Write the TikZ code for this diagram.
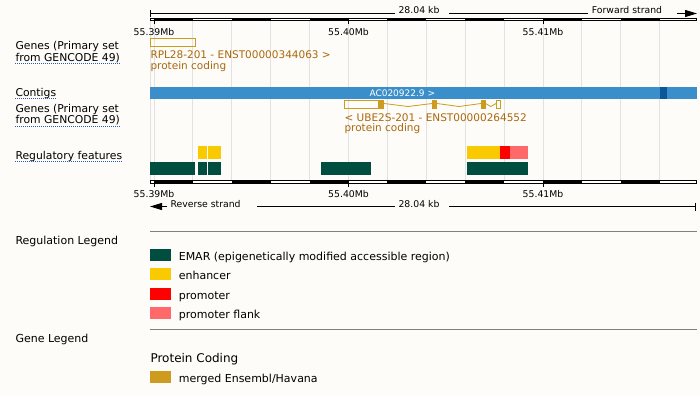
\documentclass[tikz,border=0pt]{standalone}
\usepackage{fontspec}
\setmainfont{DejaVu Sans}
\usetikzlibrary{arrows.meta}
\definecolor{pagebg}{RGB}{253,252,248}
\definecolor{gridgray}{RGB}{226,226,226}
\definecolor{contigblue}{RGB}{58,143,203}
\definecolor{contigdark}{RGB}{10,88,152}
\definecolor{genegold}{RGB}{205,155,29}
\definecolor{genetext}{RGB}{170,104,14}
\definecolor{emar}{RGB}{0,78,64}
\definecolor{enhancer}{RGB}{250,202,0}
\definecolor{promoter}{RGB}{255,0,0}
\definecolor{pflank}{RGB}{255,105,105}
\definecolor{linkblue}{RGB}{40,90,190}

\begin{document}
\begin{tikzpicture}[x=1pt, y=-1pt, line width=1pt,
  every node/.style={inner sep=0pt, anchor=base west, font=\fontsize{10.8}{12}\selectfont},
  twoline/.style={align=left, anchor=north west, font=\fontsize{10.8}{9}\selectfont},
  rulelbl/.style={anchor=base, font=\fontsize{9.3}{11}\selectfont},
  genelbl/.style={text=genetext, font=\fontsize{10.5}{12}\selectfont, text height=7.6pt, text depth=0.6pt},
  lgdlbl/.style={font=\fontsize{11}{13}\selectfont},
  uline/.style={linkblue, line width=0.9pt, dash pattern=on 1pt off 1pt},
  legline/.style={gray, line width=0.9pt},
  strand/.style={-{Triangle[length=12pt, width=7pt]}}]
	\fill[pagebg] (0,0) rectangle (700,396);
	\useasboundingbox (0,0) rectangle (700,396);
	\draw[gridgray] (150.5,21) -- (150.5,180);
	\foreach \k in {0,...,13} {\draw[gridgray] ({154+\k*38.9},21) -- ({154+\k*38.9},180);}
	% scale bars, top and bottom
	\foreach \y in {18,180} {
		\draw[fill=white] (150.5,\y+0.5) rectangle (696,\y+3);
		\foreach \k in {0,2,...,12} {\fill ({154+\k*38.9},\y) rectangle ({154+\k*38.9+38.9},\y+3.5);}
		\foreach \x in {154,348.5,543} {\draw (\x,\y+3.5) -- (\x,\y+6.5);}
	}
	\node[rulelbl] (t39) at (154,36) {55.39Mb};
	\node[rulelbl] (t40) at (348.5,36) {55.40Mb};
	\node[rulelbl] (t41) at (543,36) {55.41Mb};
	\node[rulelbl] (b39) at (154,197) {55.39Mb};
	\node[rulelbl] (b40) at (348.5,197) {55.40Mb};
	\node[rulelbl] (b41) at (543,197) {55.41Mb};
	\node[rulelbl] (kbtop) at (419,14) {28.04 kb};
	\node[rulelbl] (fwd) at (627,14) {Forward strand};
	\draw (150.5,10) -- (150.5,17);
	\draw (150.5,13.5) -- (395,13.5) (449,13.5) -- (588,13.5);
	\draw[strand] (677,13.5) -- (697,13.5);
	\node[rulelbl] (kbbot) at (419,207) {28.04 kb};
	\node[rulelbl, anchor=base west] (rev) at (170,207) {Reverse strand};
	\draw[strand] (167,206.5) -- (150,206.5);
	\draw (257,206.5) -- (395,206.5) (449,206.5) -- (695.5,206.5);
	\draw (695.5,202.5) -- (695.5,210.5);
	% track labels
	\node[twoline] (genes1) at (15,41.1) {Genes (Primary set\\from GENCODE 49)};
	\node (ctg) at (15,96.5) {Contigs};
	\node[twoline] (genes2) at (15,103.7) {Genes (Primary set\\from GENCODE 49)};
	\node (reg) at (15,159) {Regulatory features};
	\foreach \n in {genes1,genes2} {\draw[uline] ([yshift=-0.6pt]\n.south west) -- ([yshift=-0.6pt]\n.south east);}
	\foreach \n in {ctg,reg} {\draw[uline] ([yshift=-2pt]\n.base west) -- ([yshift=-2pt]\n.base east);}
	% genes, forward
	\draw[genegold] (150.5,38.8) rectangle (195.2,46.2);
	\node[genelbl] (rpl) at (150,59) {RPL28-201 - ENST00000344063 >};
	\node[genelbl] (rplbt) at (150,69.3) {protein coding};
	% contig
	\fill[contigblue] (150,87) rectangle (697,99);
	\fill[contigdark] (660,87) rectangle (666.5,99);
	\node[text=white, font=\fontsize{9}{11}\selectfont] (ac) at (369,96.3) {AC020922.9 >};
	% genes, reverse
	\draw[genegold] (344.5,100.5) rectangle (378,108);
	\foreach \a/\b in {377.7/384,432.3/436.9,481/485.5} {\fill[genegold] (\a,100) rectangle (\b,108.5);}
	\draw[genegold] (496.5,100.5) rectangle (500.5,108);
	\draw[genegold, line width=0.8pt] (384,103.5) -- (408,106.5) -- (432.3,103.5) (436.9,103.5) -- (459,106.5) -- (481,103.5) (485.5,103.5) -- (490.8,106.5) -- (496,103.5);
	\node[genelbl] (ube) at (344,121.5) {< UBE2S-201 - ENST00000264552};
	\node[genelbl] (ubebt) at (344,131.3) {protein coding};
	% regulatory features
	\foreach \a/\b in {198.3/207.3,208.3/220.7,467/500} {\fill[enhancer] (\a,146) rectangle (\b,158.5);}
	\fill[promoter] (500,146) rectangle (510,158.5);
	\fill[pflank] (510,146) rectangle (528,158.5);
	\foreach \a/\b in {150/195,198.3/207.3,208.3/220.7,321/371,467/528} {\fill[emar] (\a,162) rectangle (\b,174.7);}
	% legends
	\draw[legline] (150,231) -- (697,231);
	\node[lgdlbl] (reglgd) at (15,244) {Regulation Legend};
	\foreach \c/\t/\y in {emar/EMAR (epigenetically modified accessible region)/249.3, enhancer/enhancer/268.3, promoter/promoter/288, pflank/promoter flank/307.2} {
		\fill[\c] (150,\y) rectangle (171,\y+11.7);
		\node[lgdlbl] (lg\c) at (178.3,\y+11) {\t};
	}
	\draw[legline] (150,329.3) -- (697,329.3);
	\node[lgdlbl] (genlgd) at (15,342) {Gene Legend};
	\node[font=\fontsize{12}{14}\selectfont] (pcod) at (150,362.5) {Protein Coding};
	\fill[genegold] (150,371) rectangle (171,382.7);
	\node[lgdlbl] (merged) at (178.3,382) {merged Ensembl/Havana};
\end{tikzpicture}
\end{document}
